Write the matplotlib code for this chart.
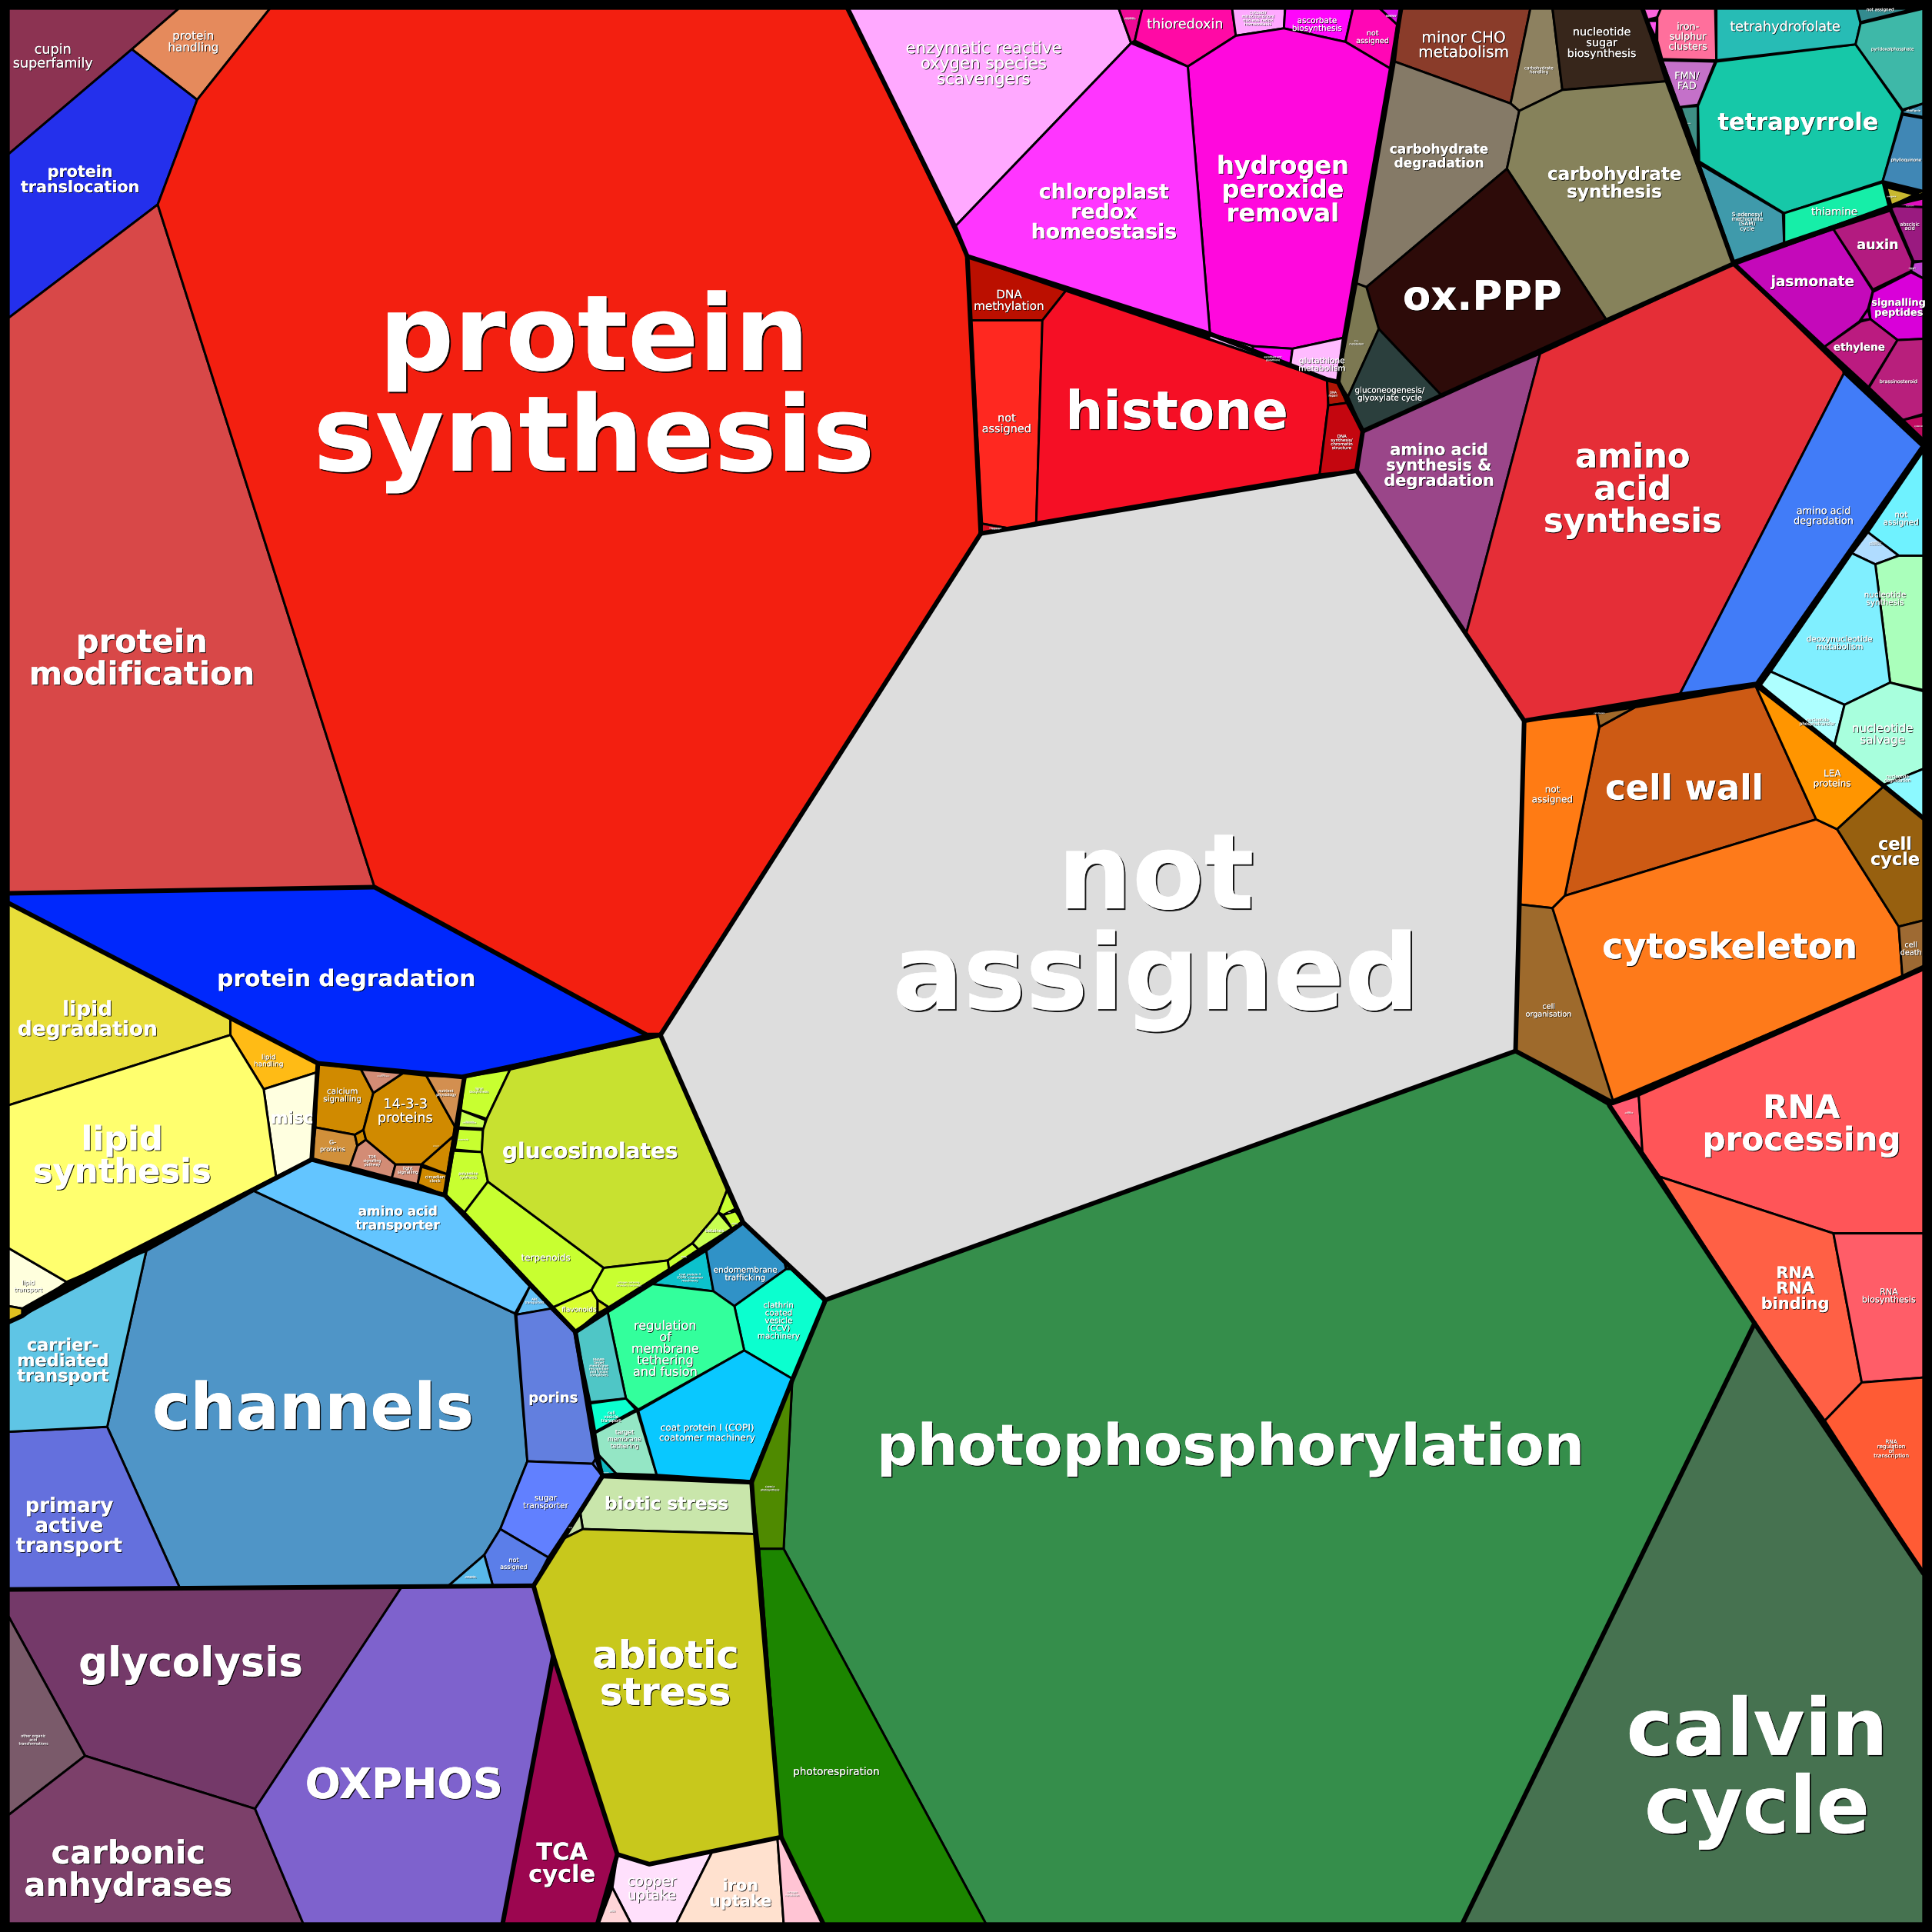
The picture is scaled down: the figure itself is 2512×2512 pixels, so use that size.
import matplotlib
matplotlib.use("Agg")
import matplotlib.pyplot as plt
from matplotlib.patches import Polygon
import matplotlib.patheffects as pe

# cell names, colours, outlines (1568 px scale), label spot and label size
cell_names = [
    # protein
    "cupin\nsuperfamily", "protein\nhandling", "protein\ntranslocation", "protein\nmodification",
    "protein\nsynthesis", "protein degradation",
    # not assigned
    "not\nassigned",
    # redox
    "enzymatic reactive\noxygen species\nscavengers", "ascorbate\nbiosynthesis", "thioredoxin",
    "cytosol/\nmitochondrion/\nnucleus redox\nhomeostasis", "ascorbate\nbiosynthesis", "not\nassigned",
    "glutathione\nmembrane", "hydrogen\nperoxide\nremoval", "chloroplast\nredox\nhomeostasis",
    "", "ascorbate and\nglutathione", "glutathione\nmetabolism",
    # DNA
    "DNA\nmethylation", "not\nassigned", "DNA damage\nresponse", "histone", "DNA\nrepair",
    "DNA\nsynthesis/\nchromatin\nstructure",
    # carbohydrate
    "minor CHO\nmetabolism", "carbohydrate\nhandling", "nucleotide\nsugar\nbiosynthesis",
    "carbohydrate\ndegradation", "carbohydrate\nsynthesis", "ox.PPP", "C1-\nmetabolism",
    "gluconeogenesis/\nglyoxylate cycle",
    # amino acids
    "amino acid\nsynthesis &\ndegradation", "amino\nacid\nsynthesis", "amino acid\ndegradation",
    # nucleotides
    "not\nassigned", "nucleotide\nphosphotransfer\nand\nphosphorylation", "nucleotide\nsynthesis",
    "deoxynucleotide\nmetabolism", "nucleotide\nphosphotransfer", "nucleotide\nsalvage",
    "nucleotide\ndegradation",
    # cell
    "cell wall", "cell division", "not\nassigned", "cell\norganisation", "cytoskeleton",
    "LEA\nproteins", "cell\ncycle", "cell\ndeath",
    # RNA
    "not\nassigned", "RNA\nprocessing", "RNA\nRNA\nbinding", "RNA\nbiosynthesis",
    "RNA\nregulation\nof\ntranscription",
    # photosynthesis
    "calvin\ncycle", "photophosphorylation", "CAM/C4\nphotosynthesis", "photorespiration",
    # stress and uptake
    "biotic stress", "a.b.", "abiotic\nstress", "copper\nuptake", "sulfur\nuptake", "iron\nuptake",
    "nitrogen\nmetabolism",
    # energy
    "glycolysis", "other organic\nacid\ntransformations", "carbonic\nanhydrases", "OXPHOS", "TCA\ncycle",
    # transport
    "channels", "amino acid\ntransporter", "ABC\ntransporters", "porins", "sugar\ntransporter", "",
    "not\nassigned", "metabolite\ntransporters", "primary\nactive\ntransport", "carrier-\nmediated\ntransport",
    "lipid\ntransport", "",
    # lipid
    "lipid\ndegradation", "lipid\nhandling", "misc", "lipid\nsynthesis",
    # signalling
    "calcium\nsignalling", "G-\nproteins", "", "TOR\nsignalling\npathway", "light\nsignalling",
    "circadian\nclock", "potassium", "14-3-3\nproteins", "redox\nreceptor kinases", "nutrient\nphysiology",
    # secondary metabolism
    "lignin\nbiosynthesis", "shikimate\nkinase/mutase", "isoprenoids", "polyamine\nsynthesis",
    "terpenoids", "glucosinolates", "flavonoids", "nitrogen-containing\nsecondary compounds", "",
    "simple\nphenols", "betaines", "wax", "phenyl-\npropanoids",
    # vesicles
    "coat protein II\n(COPII) coatomer\nmachinery", "endomembrane\ntrafficking", "", "clathrin\ncoated\nvesicle\n(CCV)\nmachinery",
    "regulation\nof\nmembrane\ntethering\nand fusion", "SNARE\ntarget\nmembrane\nrecognition\nand fusion\ncomplexes",
    "cell\nvesicle\ntransport", "target\nmembrane\ntethering", "retromer", "coat protein I (COPI)\ncoatomer machinery",
    # cofactors
    "", "", "iron-\nsulphur\nclusters", "FMN/\nFAD", "tetrapyrrole", "tetrahydrofolate", "not assigned",
    "pyridoxalphosphate", "riboflavin", "phylloquinone", "coenzyme\nA", "", "biotin",
    "S-adenosyl\nmethionine\n(SAM)\ncycle", "thiamine",
    # hormones
    "jasmonate", "auxin", "abscisic\nacid", "salicylic\nacid", "strigolactone", "signalling\npeptides", "",
    "ethylene", "brassinosteroid", "cytokinin",
]

cell_colors = [
    "#8c3352", "#e58a5c", "#2430ec", "#d84848", "#f31f10", "#0028fc",
    "#dddddd",
    "#ffa9ff", "#ef0a96", "#ff0aa5", "#ffa9ff", "#ff06fb", "#ff06b5", "#e010e8", "#ff08dd", "#ff35ff",
    "#ffb8ff", "#ff06fb", "#ffbbff",
    "#bb0f00", "#ff2820", "#d01020", "#f50f25", "#b01505", "#c4060f",
    "#8a3c2a", "#8d8160", "#37261b", "#857a67", "#86825b", "#2d0b09", "#7c7852", "#2b3f3d",
    "#9a4689", "#e52e37", "#417cf8",
    "#6ff2ff", "#b0dcff", "#aaffbb", "#80efff", "#aeffff", "#a8ffdd", "#8cf9ff",
    "#cd5a14", "#a0692b", "#ff7b14", "#9e6a2c", "#fe7a1a", "#ff9500", "#97600f", "#9e6a33",
    "#ff5a70", "#ff5558", "#ff6045", "#ff5d68", "#ff5b34",
    "#467250", "#358e4b", "#4f8a00", "#1c8500",
    "#c9e6ab", "#c5e0a5", "#c8c81c", "#ffe0fc", "#ffd5d8", "#ffe1cf", "#ffc4d4",
    "#743969", "#7a5a6a", "#7c406a", "#7e62cd", "#9c0650",
    "#4f95c7", "#63c5ff", "#62bff5", "#627fdf", "#6180ff", "#627fdf", "#5b7ee9", "#58b8e8", "#6470dd",
    "#5fc5e5", "#ffffdd", "#e0c020",
    "#e8de3a", "#ffbb15", "#ffffe0", "#ffff6e",
    "#d08a00", "#d1903a", "#d08a00", "#d38c75", "#d38c75", "#d08a00", "#d08a00", "#d08a00", "#d38c75", "#d38f50",
    "#c8ff30", "#c8ff50", "#c8ff30", "#c8ff30", "#c8ff30", "#c8e130", "#d9ff30", "#c8ff30", "#d0e020",
    "#c8ff30", "#c8ff50", "#c8ff30", "#c8ff30",
    "#0cc2cc", "#3092c7", "#14c0b0", "#0bffcf", "#33ff9c", "#4fc6c6", "#0bffcf", "#94e6c5", "#10b8c0", "#09c8ff",
    "#ff66dd", "#ff55ee", "#ff6f9c", "#c471c9", "#16c8a8", "#27bcb5", "#338b8f", "#3eb8a8", "#3e90b0", "#4087b5",
    "#c8b830", "#c8b830", "#3e8f85", "#3f9aab", "#16eea8",
    "#c409ba", "#b31b80", "#9a1a80", "#c040d0", "#e010c0", "#d900d9", "#c409ba", "#bb1b80", "#b81f7c", "#c00a60",
]

cell_polys = [
    [(7,7),(145,7),(107,40),(7,125)],
    [(145,7),(219,7),(160,81),(107,40)],
    [(107,40),(160,81),(128,166),(7,258),(7,125)],
    [(128,166),(304,720),(7,725),(7,258)],
    [(219,7),(688,7),(785,208),(788,261),(797,426),(796,433),(536,840),(525,840),(304,720),(128,166),(160,81)],
    [(7,725),(304,720),(525,840),(375,874),(258,863),(187,826),(7,733)],
    [(796,433),(1101,382),(1237,585),(1230,853),(670,1055),(603,992),(590,966),(536,840)],
    [(688,7),(908,7),(918,35),(775,184)],
    [(908,7),(927,7),(921,33),(918,35)],
    [(927,7),(1000,7),(1003,29),(964,54),(921,33)],
    [(1000,7),(1043,7),(1042,23),(1003,29)],
    [(1043,7),(1098,7),(1092,34),(1042,23)],
    [(1098,7),(1120,7),(1134,20),(1129,56),(1092,34)],
    [(1120,7),(1137,7),(1134,20)],
    [(964,54),(1003,29),(1042,23),(1092,34),(1129,56),(1091,274),(1049,283),(1017,281),(982,271)],
    [(775,184),(918,35),(964,54),(982,271),(785,208)],
    [(982,271),(1017,281),(1016,287),(981,275)],
    [(1017,281),(1049,283),(1047,298),(1016,287)],
    [(1049,283),(1091,274),(1086,310),(1047,298)],
    [(785,208),(865,236),(846,260),(788,260)],
    [(788,260),(846,260),(841,424),(820,429),(797,425)],
    [(797,425),(820,429),(796,433)],
    [(865,236),(1077,308),(1078,328),(1071,385),(841,424),(846,260)],
    [(1077,308),(1086,310),(1093,327),(1078,329)],
    [(1078,329),(1093,327),(1106,350),(1101,382),(1071,385)],
    [(1137,7),(1242,7),(1226,84),(1132,50)],
    [(1242,7),(1260,7),(1268,73),(1233,90),(1226,84)],
    [(1260,7),(1333,7),(1352,66),(1268,73)],
    [(1132,50),(1226,84),(1233,90),(1223,137),(1109,233),(1101,230)],
    [(1233,90),(1268,73),(1352,66),(1407,214),(1304,260),(1223,137)],
    [(1223,137),(1304,260),(1170,321),(1119,267),(1109,233)],
    [(1101,230),(1109,233),(1119,267),(1094,322),(1086,310)],
    [(1119,267),(1170,321),(1106,350),(1094,322)],
    [(1250,287),(1190,514),(1101,382),(1106,350),(1170,321)],
    [(1250,287),(1407,214),(1497,302),(1363,564),(1237,585),(1190,514)],
    [(1497,302),(1561,362),(1426,555),(1363,564)],
    [(1561,366),(1561,451),(1541,451),(1516,432)],
    [(1516,432),(1541,451),(1522,458),(1503,449)],
    [(1541,451),(1561,451),(1561,560),(1534,554),(1522,458)],
    [(1503,449),(1522,458),(1534,554),(1497,572),(1437,545)],
    [(1437,545),(1497,572),(1488,608),(1429,556)],
    [(1497,572),(1534,554),(1561,561),(1561,624),(1529,637),(1488,608)],
    [(1529,637),(1561,624),(1561,664)],
    [(1298,590),(1327,574),(1425,557),(1474,665),(1270,727)],
    [(1296,579),(1327,574),(1298,590)],
    [(1237,585),(1296,579),(1298,590),(1270,727),(1260,737),(1233,734)],
    [(1233,734),(1260,737),(1312,889),(1309,895),(1230,853)],
    [(1260,737),(1270,727),(1474,665),(1491,673),(1541,752),(1544,793),(1309,893)],
    [(1425,557),(1529,638),(1491,673),(1474,665)],
    [(1529,638),(1561,664),(1561,747),(1541,752),(1491,673)],
    [(1541,752),(1561,747),(1561,785),(1544,793)],
    [(1306,897),(1330,889),(1333,935)],
    [(1330,889),(1561,787),(1561,1001),(1488,1001),(1347,955),(1333,935)],
    [(1347,955),(1488,1001),(1511,1122),(1481,1153),(1424,1074)],
    [(1488,1001),(1561,1001),(1561,1118),(1511,1122)],
    [(1511,1122),(1561,1118),(1561,1277),(1481,1153)],
    [(1424,1074),(1561,1277),(1561,1561),(1187,1561)],
    [(670,1055),(1230,853),(1306,897),(1333,935),(1424,1074),(1187,1561),(800,1561),(636,1257),(643,1120)],
    [(643,1120),(636,1257),(616,1257),(610,1203)],
    [(616,1257),(636,1257),(800,1561),(668,1561),(634,1491)],
    [(489,1198),(610,1203),(613,1245),(473,1241),(471,1228)],
    [(471,1228),(473,1241),(457,1249)],
    [(433,1287),(457,1249),(473,1241),(613,1245),(616,1257),(634,1491),(527,1513),(501,1505),(449,1344)],
    [(527,1513),(578,1503),(549,1561),(512,1561),(497,1532),(501,1505)],
    [(497,1532),(512,1561),(486,1561)],
    [(578,1503),(631,1492),(636,1561),(549,1561)],
    [(631,1492),(634,1491),(668,1561),(636,1561)],
    [(7,1290),(326,1288),(207,1468),(69,1425),(7,1312)],
    [(7,1312),(69,1425),(7,1473)],
    [(69,1425),(207,1468),(246,1561),(7,1561),(7,1473)],
    [(326,1288),(433,1287),(449,1344),(408,1561),(246,1561),(207,1468)],
    [(449,1344),(501,1505),(485,1561),(408,1561)],
    [(119,1014),(205,966),(418,1066),(428,1186),(406,1241),(393,1262),(364,1287),(146,1289),(87,1158)],
    [(205,966),(253,941),(361,970),(430,1044),(418,1066)],
    [(430,1044),(449,1062),(419,1067)],
    [(419,1067),(447,1062),(466,1081),(484,1183),(481,1188),(428,1186)],
    [(428,1186),(481,1188),(489,1198),(445,1264),(406,1241)],
    [(481,1188),(484,1183),(489,1198)],
    [(406,1241),(445,1264),(433,1287),(400,1287),(393,1262)],
    [(393,1262),(400,1287),(364,1287)],
    [(7,1162),(87,1158),(146,1289),(7,1290)],
    [(18,1068),(119,1014),(87,1158),(7,1162),(7,1073)],
    [(7,1013),(55,1041),(18,1062),(7,1060)],
    [(7,1060),(18,1062),(18,1068),(7,1073)],
    [(7,733),(187,826),(187,840),(7,897)],
    [(187,826),(258,863),(258,870),(214,884),(187,840)],
    [(214,884),(258,870),(253,941),(224,955)],
    [(7,897),(187,840),(214,884),(224,955),(55,1041),(7,1013)],
    [(258,863),(293,868),(303,887),(295,917),(288,921),(256,915)],
    [(256,915),(288,921),(290,930),(284,947),(253,941)],
    [(295,917),(297,925),(290,930),(288,921)],
    [(297,925),(321,945),(318,956),(284,947),(290,930)],
    [(321,945),(342,945),(339,961),(318,956)],
    [(342,947),(363,953),(361,970),(339,961)],
    [(368,922),(363,953),(342,945)],
    [(303,887),(327,871),(346,873),(369,914),(368,922),(342,945),(321,945),(297,925),(295,917)],
    [(293,868),(327,871),(303,887)],
    [(346,873),(377,874),(372,914),(369,914)],
    [(377,874),(414,868),(395,908),(374,901)],
    [(374,901),(394,909),(393,916),(372,915)],
    [(372,916),(392,917),(391,935),(369,933)],
    [(368,934),(391,935),(396,959),(377,984),(362,970)],
    [(396,959),(490,1029),(480,1047),(449,1061),(377,984)],
    [(414,868),(536,840),(590,966),(583,984),(562,1009),(542,1023),(490,1029),(396,959),(391,935),(392,917),(395,908)],
    [(449,1061),(480,1047),(485,1055),(485,1066),(467,1081)],
    [(490,1029),(542,1023),(543,1030),(494,1061),(485,1055),(480,1047)],
    [(485,1055),(494,1061),(485,1066)],
    [(542,1023),(562,1009),(567,1014),(543,1030)],
    [(583,984),(594,997),(567,1014),(562,1009)],
    [(590,966),(597,981),(587,986),(583,984)],
    [(587,986),(597,983),(603,992),(594,997)],
    [(573,1014),(579,1048),(528,1042)],
    [(573,1014),(603,992),(637,1025),(638,1030),(596,1060),(579,1048)],
    [(637,1025),(642,1030),(638,1030)],
    [(638,1030),(642,1030),(670,1057),(643,1119),(604,1096),(596,1060)],
    [(493,1064),(528,1042),(579,1048),(596,1060),(604,1096),(518,1144),(508,1135)],
    [(467,1081),(493,1064),(508,1135),(479,1138)],
    [(479,1139),(508,1135),(516,1144),(483,1162)],
    [(483,1163),(517,1145),(533,1197),(500,1196),(486,1181)],
    [(486,1181),(500,1196),(489,1197)],
    [(518,1145),(604,1096),(643,1119),(609,1202),(533,1197)],
    [(1333,7),(1348,7),(1345,14),(1337,16)],
    [(1337,17),(1345,17),(1344,31)],
    [(1348,7),(1392,7),(1393,49),(1349,48),(1345,33),(1345,14)],
    [(1349,49),(1392,50),(1378,85),(1363,87)],
    [(1393,50),(1506,36),(1544,90),(1528,147),(1448,173),(1379,131),(1378,86)],
    [(1393,7),(1507,7),(1510,19),(1506,36),(1393,49)],
    [(1507,7),(1554,7),(1510,18)],
    [(1510,19),(1561,7),(1561,84),(1544,89),(1506,36)],
    [(1544,90),(1561,84),(1561,95),(1544,92)],
    [(1544,93),(1561,96),(1561,155),(1528,147)],
    [(1531,152),(1554,158),(1535,167)],
    [(1554,157),(1561,155),(1561,159)],
    [(1364,87),(1378,86),(1378,127)],
    [(1379,133),(1447,173),(1448,197),(1407,212)],
    [(1448,173),(1528,148),(1533,168),(1448,197)],
    [(1407,214),(1488,186),(1520,236),(1516,251),(1509,261),(1480,282)],
    [(1488,186),(1534,171),(1552,212),(1551,220),(1520,235)],
    [(1534,167),(1561,168),(1561,212),(1553,212)],
    [(1553,213),(1561,212),(1561,226),(1551,220)],
    [(1535,167),(1561,161),(1561,168)],
    [(1551,221),(1561,226),(1561,275),(1540,276),(1518,259),(1517,250),(1520,237)],
    [(1516,251),(1518,259),(1510,260)],
    [(1510,261),(1518,259),(1540,276),(1516,315),(1480,282)],
    [(1540,276),(1561,275),(1561,336),(1544,341),(1516,316)],
    [(1544,341),(1561,337),(1561,358)],
]

label_x = [
    43, 157, 65, 115, 482, 281,
    938,
    798, 917, 962, 1021, 1069, 1114, 1129, 1041, 896, 0, 1033, 1073,
    819, 817, 808, 955, 1082, 1089,
    1188, 1249, 1300, 1168, 1310, 1203, 1101, 1128,
    1168, 1325, 1480,
    1543, 1522, 1530, 1493, 1475, 1528, 1540,
    1367, 1298, 1260, 1257, 1404, 1487, 1538, 1551,
    1322, 1462, 1457, 1533, 1535,
    1426, 998, 625, 679,
    541, 463, 540, 529, 497, 601, 643,
    155, 27, 104, 328, 456,
    254, 323, 434, 449, 443, 0, 417, 382, 56, 51, 23, 0,
    71, 218, 237, 99,
    278, 270, 0, 302, 331, 353, 354, 329, 311, 362,
    389, 381, 376, 380, 443, 479, 470, 510, 0, 555, 580, 592, 596,
    560, 605, 0, 632, 540, 486, 496, 507, 492, 574,
    0, 0, 1370, 1369, 1459, 1449, 1526, 1536, 1553, 1547, 1535, 0, 1371, 1418, 1489,
    1471, 1524, 1550, 1552, 1550, 1541, 0, 1509, 1541, 1557,
]

label_y = [
    46, 34, 146, 535, 318, 795,
    755,
    52, 15, 20, 15, 20, 30, 13, 155, 173, 0, 291, 296,
    244, 344, 429, 336, 320, 359,
    37, 57, 35, 127, 149, 242, 278, 320,
    378, 398, 419,
    421, 441, 486, 522, 586, 596, 632,
    641, 579, 645, 820, 770, 632, 692, 770,
    903, 913, 1046, 1052, 1176,
    1438, 1176, 1208, 1438,
    1221, 1240, 1360, 1533, 1551, 1537, 1537,
    1351, 1412, 1518, 1450, 1513,
    1145, 989, 1056, 1135, 1219, 0, 1269, 1280, 1239, 1105, 1044, 0,
    828, 861, 908, 939,
    889, 930, 0, 942, 950, 957, 930, 902, 873, 887,
    885, 911, 925, 954, 1021, 935, 1063, 1042, 0, 1020, 999, 984, 993,
    1037, 1034, 0, 1072, 1095, 1110, 1150, 1168, 1195, 1163,
    0, 0, 30, 66, 100, 22, 8, 40, 90, 130, 160, 0, 100, 180, 172,
    229, 199, 184, 218, 167, 250, 0, 282, 310, 346,
]

label_size = [
    11, 9.5, 12.9, 26, 85, 18.5,
    85,
    13.3, 1.5, 11, 3.5, 6.5, 6, 1.5, 20, 16.7, 0, 2, 6.5,
    9.5, 9, 1.5, 43, 2.5, 3.5,
    12.5, 3.5, 9, 10.6, 14.4, 33, 2, 6.5,
    13, 27, 8,
    6.5, 1.2, 6.5, 6.5, 3.5, 9.5, 3.5,
    28, 1.5, 7.5, 6, 28.7, 7.5, 14, 6,
    1.5, 26.3, 13, 7, 4.5,
    64, 46, 2, 8.5,
    14.5, 1.5, 31, 11.5, 1.5, 13, 2,
    33, 3, 26, 34, 19,
    52, 10.5, 2.5, 11.3, 6.5, 0, 5, 1.5, 16.2, 14, 5, 0,
    16.5, 5.5, 13.5, 27,
    6.5, 5, 0, 3, 3.5, 3.5, 1, 11, 1.2, 3,
    2.5, 1.5, 1.5, 3, 7.5, 17.5, 5.5, 1.8, 0, 1.2, 3.5, 1, 1,
    2.5, 6.5, 0, 6.5, 10, 2.8, 3.5, 5, 1, 7.5,
    0, 0, 8, 8, 19, 11, 3.5, 3.5, 2.5, 3.5, 1.5, 0, 1, 4.5, 8.5,
    11.5, 11, 4, 1.5, 1, 8, 0, 8.5, 4, 1.5,
]

# smaller labels that are still bold, and one larger that is not
bold_small = ["carbohydrate\ndegradation", "amino acid\ntransporter", "porins", "jasmonate", "auxin",
              "ethylene", "signalling\npeptides"]
not_bold = ["enzymatic reactive\noxygen species\nscavengers"]

# heavier outlines between the groups
group_lines = [
    [(796,433),(1101,382),(1237,585),(1230,853),(670,1055),(603,992),(536,840),(796,433)],
    [(688,7),(775,184),(785,208),(796,433)],
    [(785,208),(982,271),(1077,308),(1086,310),(1106,350),(1101,382)],
    [(1137,7),(1129,56),(1091,274),(1086,310)],
    [(1106,350),(1170,321),(1304,260),(1407,214)],
    [(1333,7),(1407,214),(1561,158)],
    [(1407,214),(1480,282),(1516,315),(1561,358)],
    [(1497,302),(1561,362),(1426,555),(1363,564),(1237,585)],
    [(1426,555),(1529,638),(1561,664)],
    [(1230,853),(1309,895),(1544,793),(1561,785)],
    [(1306,897),(1424,1074),(1561,1277)],
    [(1424,1074),(1187,1561)],
    [(670,1055),(643,1120),(610,1203),(613,1245),(634,1491),(668,1561)],
    [(467,1081),(493,1064),(528,1042),(573,1014),(603,992)],
    [(7,725),(304,720),(525,840),(536,840)],
    [(7,733),(258,863),(375,874),(536,840)],
    [(258,863),(253,941),(361,970),(377,874)],
    [(361,970),(467,1081),(484,1183),(489,1198),(610,1203)],
    [(253,941),(205,966),(119,1014),(55,1041),(18,1068),(7,1073)],
    [(7,1290),(433,1287),(489,1198)],
    [(433,1287),(449,1344),(501,1505),(485,1561)],
    [(501,1505),(527,1513),(634,1491)],
    [(449,1344),(408,1561)],
]

assert len(cell_names) == len(cell_colors) == len(cell_polys) == len(label_x) == len(label_y) == len(label_size)

fig = plt.figure(figsize=(25.12, 25.12), dpi=100, facecolor="black")
ax = fig.add_axes([0, 0, 1, 1])
ax.set_xlim(0, 1568)
ax.set_ylim(1568, 0)
ax.axis("off")

for i in range(len(cell_polys)):
    ax.add_patch(Polygon(cell_polys[i], closed=True, facecolor=cell_colors[i],
                         edgecolor="black", linewidth=2.1, joinstyle="round", zorder=2))

for line in group_lines:
    ax.plot([p[0] for p in line], [p[1] for p in line], color="black", linewidth=4.3,
            solid_joinstyle="round", solid_capstyle="round", zorder=3)

for i in range(len(cell_names)):
    if cell_names[i] == "" or label_size[i] == 0:
        continue
    size = label_size[i] * 1.1534
    off = 0.5 + size * 0.01
    weight = "bold" if label_size[i] >= 12.8 or cell_names[i] in bold_small else "normal"
    if cell_names[i] in not_bold:
        weight = "normal"
    t = ax.text(label_x[i], label_y[i], cell_names[i], color="white", fontsize=size, weight=weight,
                ha="center", va="center", multialignment="center", linespacing=1.0,
                family="DejaVu Sans", zorder=5)
    t.set_path_effects([pe.withSimplePatchShadow(offset=(off, -off), shadow_rgbFace="black", alpha=0.9),
                        pe.Normal()])

# outer black frame
for rect in [(0, 0, 1568, 7), (0, 1561, 1568, 7), (0, 0, 7, 1568), (1561, 0, 7, 1568)]:
    ax.add_patch(plt.Rectangle(rect[:2], rect[2], rect[3], facecolor="black", edgecolor="none", zorder=4))

fig.savefig("out.png", dpi=100, facecolor="black")
